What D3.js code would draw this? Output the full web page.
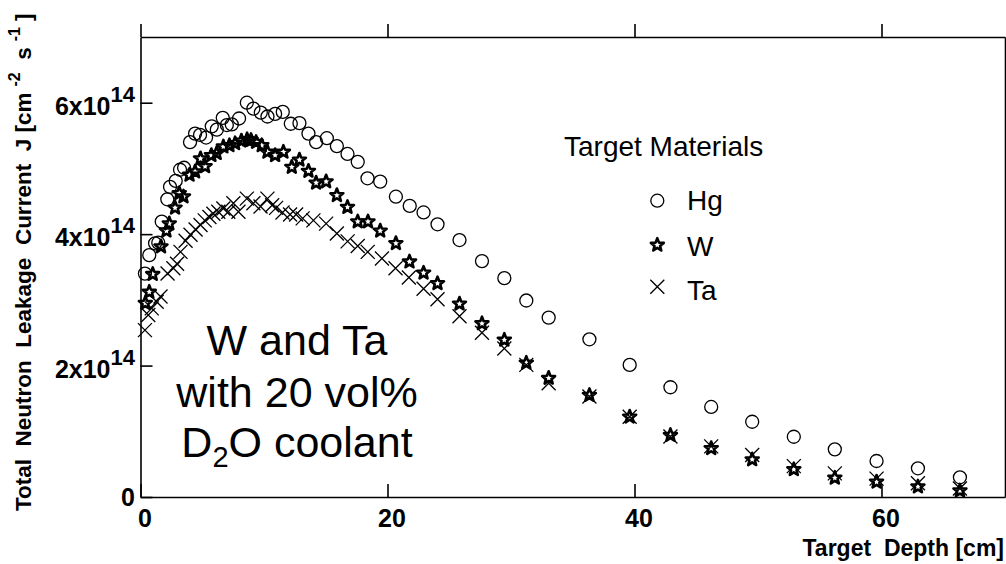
<!DOCTYPE html>
<html>
<head>
<meta charset="utf-8">
<script src="https://cdn.jsdelivr.net/npm/d3@7"></script>
<style>
  html, body { margin: 0; padding: 0; background: #fff; }
  svg { display: block; font-family: "Liberation Sans", Arial, Helvetica, sans-serif; }
</style>
</head>
<body>
<svg id="chart" width="1006" height="564"></svg>
<script>
// Target depth [cm] and total neutron leakage current J (units of 1e14 cm^-2 s^-1)
const depthHg = [0.36,0.71,1.18,1.44,1.72,2.17,2.39,2.85,3.20,3.53,4.01,4.42,4.82,5.31,5.77,6.18,6.66,6.99,7.39,7.98,8.61,9.14,9.74,10.28,10.9,11.52,12.17,12.87,13.6,14.22,15.09,15.9,16.76,17.59,18.38,19.41,20.68,21.8,22.92,24.05,25.83,27.65,29.46,31.24,33.05,36.35,39.61,42.91,46.21,49.53,52.9,56.22,59.6,62.95,66.35];
const currentHg = [3.40,3.68,3.86,3.87,4.19,4.53,4.72,4.81,4.98,5.01,5.40,5.53,5.51,5.47,5.64,5.59,5.77,5.66,5.67,5.76,6.00,5.91,5.85,5.79,5.83,5.86,5.68,5.69,5.53,5.40,5.46,5.34,5.22,5.10,4.85,4.80,4.57,4.43,4.33,4.15,3.91,3.59,3.33,2.99,2.73,2.40,2.01,1.67,1.37,1.145,0.917,0.725,0.548,0.437,0.30];

const depthW = [0.39,0.71,0.99,1.66,2.1,2.33,2.80,3.14,3.48,3.97,4.42,4.86,5.23,5.74,6.17,6.71,7.2,7.66,8.17,8.63,8.95,9.36,9.82,10.28,10.9,11.57,12.25,12.87,13.6,14.22,15.03,15.9,16.76,17.59,18.42,19.41,20.68,21.78,22.92,24.05,25.83,27.65,29.46,31.24,33.05,36.35,39.61,42.91,46.21,49.53,52.9,56.22,59.6,62.95,66.35];
const currentW = [2.95,3.12,3.39,3.81,4.05,4.16,4.40,4.62,4.57,4.90,4.95,5.15,5.03,5.20,5.23,5.33,5.35,5.38,5.42,5.44,5.43,5.40,5.35,5.25,5.20,5.25,5.02,5.13,4.96,4.78,4.80,4.59,4.41,4.19,4.19,4.05,3.86,3.58,3.41,3.25,2.94,2.64,2.39,2.04,1.81,1.55,1.22,0.94,0.74,0.57,0.42,0.29,0.23,0.157,0.096];

const depthTa = [0.36,0.63,0.91,1.31,1.62,2.19,2.66,2.96,3.24,3.65,4.05,4.46,4.86,5.20,5.58,5.90,6.30,6.71,7.11,7.52,7.93,8.61,9.14,9.72,10.28,10.66,10.98,11.5,12.11,12.6,13.13,14.0,15.03,15.9,16.77,17.59,18.4,19.55,20.65,21.73,22.92,24.05,25.83,27.65,29.46,31.24,33.05,36.35,39.61,42.91,46.21,49.53,52.9,56.22,59.6,62.95,66.35];
const currentTa = [2.54,2.77,2.87,2.97,3.05,3.40,3.48,3.55,3.73,3.90,3.99,4.07,4.14,4.21,4.26,4.31,4.34,4.39,4.34,4.47,4.34,4.54,4.47,4.42,4.54,4.44,4.40,4.33,4.30,4.30,4.24,4.21,4.16,4.01,3.89,3.82,3.73,3.63,3.48,3.34,3.17,3.01,2.75,2.50,2.26,2.01,1.73,1.53,1.22,0.92,0.77,0.64,0.47,0.36,0.28,0.21,0.13];

const xTicks = [0, 20, 40, 60];
const yTicks = [0, 2, 4, 6];
const yExponent = "14";
const materials = ["Hg", "W", "Ta"];

const svg = d3.select("#chart");
const plot = { left: 140.5, right: 1005, top: 37, bottom: 497 };

const x = d3.scaleLinear().domain([0, 70]).range([plot.left, plot.right]);
const y = d3.scaleLinear().domain([0, 7]).range([plot.bottom, plot.top]);

const axisStroke = 1.6;

// Frame axes: ticks point inward on bottom/left, outward on top/right
const gBottom = svg.append("g").attr("transform", `translate(0,${plot.bottom})`)
  .call(d3.axisBottom(x).tickValues(xTicks).tickSize(-13).tickSizeOuter(0).tickFormat(d => d));
gBottom.selectAll("text")
  .attr("y", 30).attr("dy", null).attr("dx", 4)
  .style("font-size", "25px").style("font-weight", "bold").attr("fill", "#000");

const gTop = svg.append("g").attr("transform", `translate(0,${plot.top})`)
  .call(d3.axisTop(x).tickValues(xTicks).tickSize(13).tickSizeOuter(0).tickFormat(""));

const gLeft = svg.append("g").attr("transform", `translate(${plot.left},0)`)
  .call(d3.axisLeft(y).tickValues(yTicks).tickSize(-12).tickSizeOuter(0).tickFormat(""));

const gRight = svg.append("g").attr("transform", `translate(${plot.right},0)`)
  .call(d3.axisRight(y).tickValues(yTicks.slice(1)).tickSize(6).tickSizeOuter(0).tickFormat(""));

[gBottom, gTop, gLeft, gRight].forEach(g => {
  g.select(".domain").attr("stroke", "#000").attr("stroke-width", axisStroke);
  g.selectAll(".tick line").attr("stroke", "#000").attr("stroke-width", axisStroke);
});

// Y tick labels in "Nx10^14" form
const yLab = svg.append("g")
  .style("font-weight", "bold")
  .attr("text-anchor", "end");
yTicks.forEach(v => {
  const t = yLab.append("text")
    .attr("x", 135)
    .attr("y", y(v) + (v === 0 ? 9 : 12))
    .style("font-size", "25px");
  if (v === 0) {
    t.text("0");
  } else {
    t.append("tspan").text(v + "x10");
    t.append("tspan").attr("dy", -13).style("font-size", "22px").text(yExponent);
  }
});

// Markers
const starPath = (() => {
  const R = 6.8, r = 2.9, pts = [];
  for (let i = 0; i < 10; i++) {
    const a = -Math.PI / 2 + i * Math.PI / 5;
    const rr = i % 2 === 0 ? R : r;
    pts.push([rr * Math.cos(a), rr * Math.sin(a)]);
  }
  return "M" + pts.map(p => p[0].toFixed(2) + "," + p[1].toFixed(2)).join("L") + "Z";
})();
const crossPath = "M-7,-7L7,7M-7,7L7,-7";

function drawCircle(g, cx, cy) {
  g.append("circle").attr("cx", cx).attr("cy", cy).attr("r", 6.5)
    .attr("fill", "none").attr("stroke", "#000").attr("stroke-width", 1.3);
}
function drawStar(g, cx, cy) {
  g.append("path").attr("d", starPath).attr("transform", `translate(${cx},${cy})`)
    .attr("fill", "none").attr("stroke", "#000").attr("stroke-width", 2.6).attr("stroke-linejoin", "round");
}
function drawCross(g, cx, cy) {
  g.append("path").attr("d", crossPath).attr("transform", `translate(${cx},${cy})`)
    .attr("fill", "none").attr("stroke", "#000").attr("stroke-width", 1.3);
}

const marks = svg.append("g");
depthHg.forEach((d, i) => drawCircle(marks, x(d), y(currentHg[i])));
depthW.forEach((d, i) => drawStar(marks, x(d), y(currentW[i])));
depthTa.forEach((d, i) => drawCross(marks, x(d), y(currentTa[i])));

// Legend
const legend = svg.append("g").style("font-size", "28px");
legend.append("text").attr("x", 564).attr("y", 156).text("Target Materials");
const drawers = [drawCircle, drawStar, drawCross];
const legendRows = [{ sy: 200.7, ty: 210 }, { sy: 245, ty: 256 }, { sy: 286.7, ty: 300 }];
materials.forEach((m, i) => {
  drawers[i](legend, 657.3, legendRows[i].sy);
  legend.append("text").attr("x", 687).attr("y", legendRows[i].ty).text(m);
});

// Annotation
const note = svg.append("g").attr("text-anchor", "middle").style("font-size", "43px");
note.append("text").attr("x", 297).attr("y", 355).text("W and Ta");
note.append("text").attr("x", 297).attr("y", 407).text("with 20 vol%");
const l3 = note.append("text").attr("x", 297).attr("y", 457);
l3.append("tspan").text("D");
l3.append("tspan").attr("dy", 10).style("font-size", "29px").text("2");
l3.append("tspan").attr("dy", -10).text("O coolant");

// Axis titles
svg.append("text")
  .attr("x", 1004).attr("y", 556)
  .attr("text-anchor", "end")
  .style("font-size", "23px").style("font-weight", "bold")
  .style("white-space", "pre")
  .text("Target  Depth [cm]");

const yt = svg.append("text")
  .attr("transform", "translate(31,511) rotate(-90)")
  .style("font-size", "22.5px").style("font-weight", "bold")
  .style("white-space", "pre");
yt.append("tspan").text("Total  Neutron  Leakage  Current  J [cm");
yt.append("tspan").attr("dx", 6).attr("dy", -11).style("font-size", "16px").text("-2");
yt.append("tspan").attr("dy", 11).text("  s");
yt.append("tspan").attr("dx", 6).attr("dy", -11).style("font-size", "16px").text("-1");
yt.append("tspan").attr("dx", 6).attr("dy", 11).text("]");
</script>
</body>
</html>
